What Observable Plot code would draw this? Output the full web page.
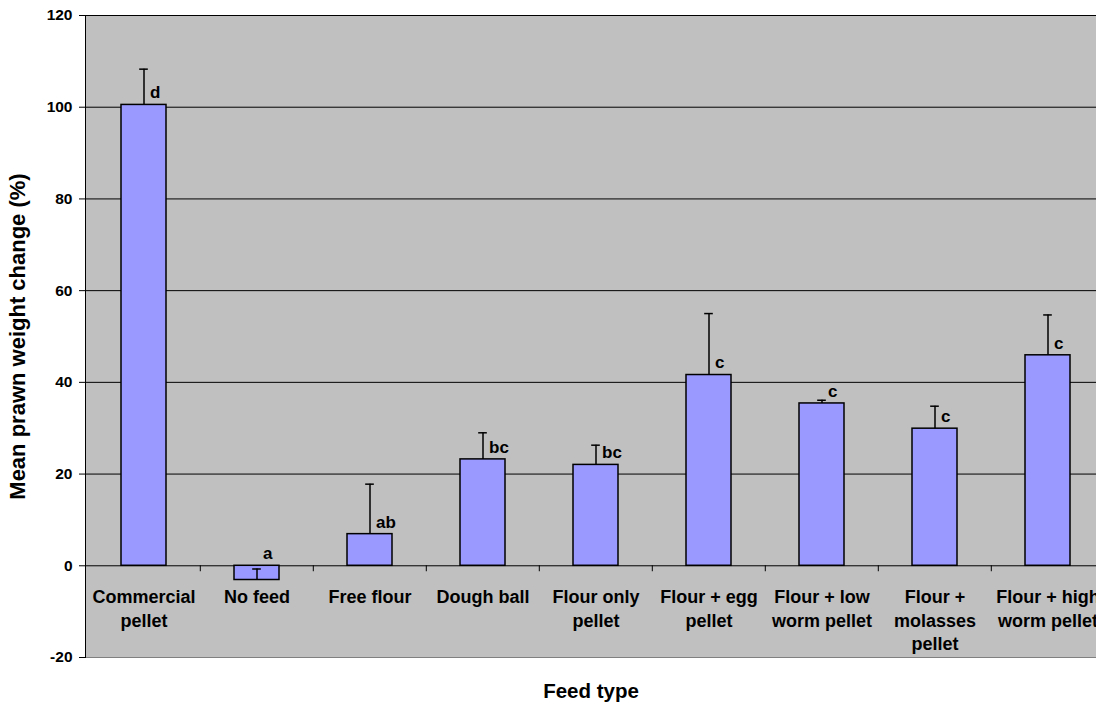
<!DOCTYPE html>
<html>
<head>
<meta charset="utf-8">
<script src="https://cdn.jsdelivr.net/npm/d3@7"></script>
<script src="https://cdn.jsdelivr.net/npm/@observablehq/plot@0.6"></script>
<style>
  html, body { margin: 0; padding: 0; background: #fff; overflow: hidden; }
  #chart svg { display: block; }
</style>
</head>
<body>
<div id="chart"></div>
<script>
// Feed types (domain keys) and their wrapped axis labels
const feeds = [
  "Commercial pellet", "No feed", "Free flour", "Dough ball", "Flour only pellet",
  "Flour + egg pellet", "Flour + low worm pellet", "Flour + molasses pellet", "Flour + high worm pellet"
];
const feedLabels = [
  "Commercial\npellet", "No feed", "Free flour", "Dough ball", "Flour only\npellet",
  "Flour + egg\npellet", "Flour + low\nworm pellet", "Flour +\nmolasses\npellet", "Flour + high\nworm pellet"
];
// Mean prawn weight change (%) and the upper error bar length
const meanChange = [100.5, -3.1, 6.9, 23.2, 22.0, 41.6, 35.4, 29.9, 45.9];
const errorUp = [7.8, 2.4, 10.9, 5.8, 4.3, 13.4, 0.7, 4.9, 8.8];
// Significance groupings
const groupLetters = ["d", "a", "ab", "bc", "bc", "c", "c", "c", "c"];
const yTicks = [-20, 0, 20, 40, 60, 80, 100, 120];

const rows = feeds.map((feed, i) => ({
  feed,
  label: feedLabels[i],
  change: meanChange[i],
  err: errorUp[i],
  letter: groupLetters[i]
}));

const W = 1096, H = 704;
const xOptions = {type: "band", domain: feeds, range: [85, 1105.6], paddingInner: 0.6, paddingOuter: 0.3};
const xs = Plot.scale({x: xOptions});
const step = xs.step ?? (xOptions.range[1] - xOptions.range[0]) / feeds.length;
const bandwidth = xs.bandwidth ?? step * 0.4;
const capWidth = 9;
const capInset = (bandwidth - capWidth) / 2;

const chart = Plot.plot({
  width: W,
  height: H,
  marginTop: 15,
  marginBottom: 47,
  marginLeft: 85,
  marginRight: 0,
  style: {
    fontFamily: "'Liberation Sans', Arial, sans-serif",
    fontWeight: "bold",
    background: "#fff",
    color: "#000"
  },
  x: {...xOptions, axis: null},
  y: {domain: [-20, 120], axis: null},
  marks: [
    // plot area
    Plot.frame({fill: "#c0c0c0", stroke: "#808080"}),
    // horizontal gridlines
    Plot.ruleY(yTicks.filter(t => t >= 0), {stroke: "#000", strokeWidth: 1}),
    // category separators on the zero line
    Plot.ruleX(feeds.slice(1), {x: d => d, y1: 0, y2: -1.3, dx: -step / 2, stroke: "#000", strokeWidth: 1}),
    // bars
    Plot.barY(rows, {x: "feed", y: "change", fill: "#9999ff", stroke: "#000", strokeWidth: 1.5}),
    // error bars (upper only)
    Plot.ruleX(rows, {x: "feed", y1: "change", y2: d => d.change + d.err, stroke: "#000", strokeWidth: 1.5}),
    Plot.tickY(rows, {x: "feed", y: d => d.change + d.err, insetLeft: capInset, insetRight: capInset, stroke: "#000", strokeWidth: 1.5}),
    // significance letters
    Plot.text(rows, {x: "feed", y: d => Math.max(d.change, 0), text: "letter", textAnchor: "start", lineAnchor: "middle", dx: 6, dy: -12, fontSize: 17}),
    // category labels under the zero line
    Plot.text(rows, {x: "feed", y: 0, text: "label", lineAnchor: "top", dy: 21, lineHeight: 1.3, fontSize: 18}),
    // y axis
    Plot.axisY({ticks: yTicks, tickFormat: d => String(d), tickSize: 6, tickPadding: 7, fontSize: 15.5, label: null}),
    Plot.frame({anchor: "left", stroke: "#000", strokeWidth: 1}),
    // axis titles
    Plot.text(["Mean prawn weight change (%)"], {frameAnchor: "left", rotate: -90, dx: -68, textAnchor: "middle", lineAnchor: "middle", fontSize: 22}),
    Plot.text(["Feed type"], {frameAnchor: "bottom", dy: 34, textAnchor: "middle", lineAnchor: "middle", fontSize: 20.5})
  ]
});

document.getElementById("chart").append(chart);
</script>
</body>
</html>
